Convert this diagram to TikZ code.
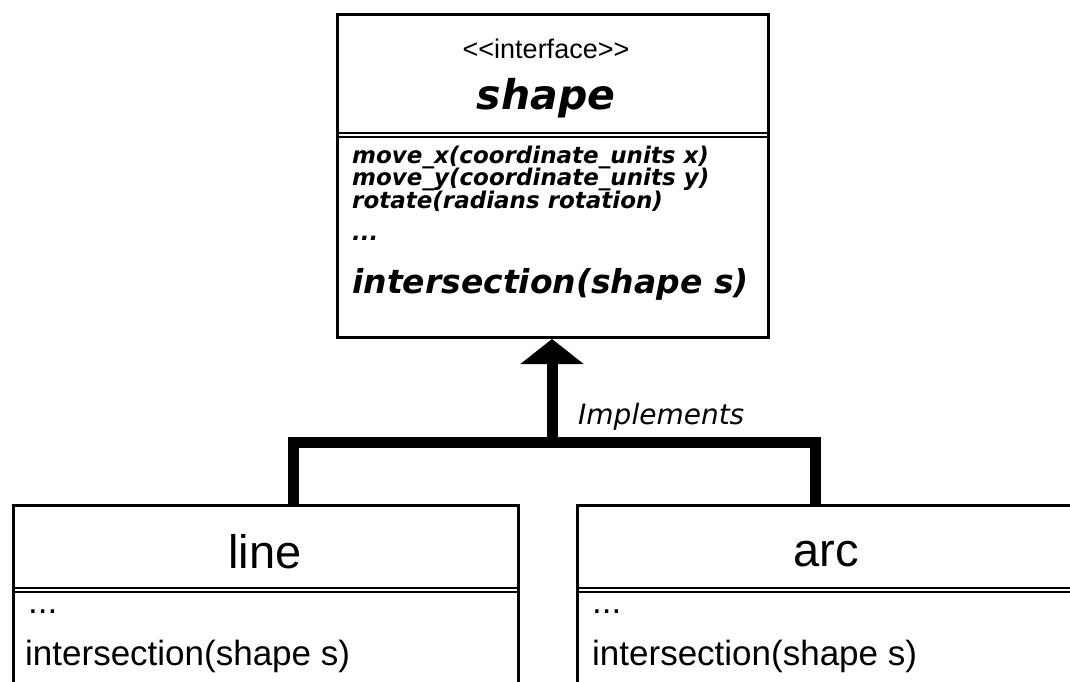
\documentclass[tikz,border=0pt]{standalone}
\usepackage{fontspec}
\setmainfont{Liberation Sans}
\newfontfamily\djv{DejaVu Sans}
\usetikzlibrary{arrows.meta}
\tikzset{
  classbox/.style={draw=black, line width=3pt, fill=white},
  sepline/.style={draw=black, line width=1.4pt},
  opitalic/.style={anchor=base west, inner sep=0pt, font=\djv\bfseries\itshape\fontsize{23}{23}\selectfont},
  plain/.style={inner sep=0pt, font=\fontsize{35}{35}\selectfont},
  classname/.style={anchor=base, inner sep=0pt, font=\fontsize{47}{47}\selectfont},
  realize/.style={draw=black, line width=11pt, line join=miter},
}
\begin{document}
\begin{tikzpicture}[x=1pt, y=-1pt]
  \useasboundingbox (0,0) rectangle (1070,681);
  \fill[white] (0,0) rectangle (1070,681);

  % interface box
  \node[classbox, minimum width=431pt, minimum height=323pt, anchor=north west, inner sep=0pt] (shapebox) at (336,13) {};
  \draw[sepline] (shapebox.west |- 0,133) -- (shapebox.east |- 0,133);
  \draw[sepline] (shapebox.west |- 0,137) -- (shapebox.east |- 0,137);
  \node[anchor=base, inner sep=0pt, font=\fontsize{27}{27}\selectfont] (stereo) at (546,58) {<\kern0pt<interface>\kern0pt>};
  \node[anchor=base, inner sep=0pt, font=\djv\bfseries\itshape\fontsize{41}{41}\selectfont] (iname) at (546,109) {shape};
  \node[opitalic] (op1) at (352,163) {move\_x(coordinate\_units x)};
  \node[opitalic] (op2) at (352,185) {move\_y(coordinate\_units y)};
  \node[opitalic] (op3) at (352,208) {rotate(radians rotation)};
  \node[opitalic] (op4) at (352,240) {...};
  \node[anchor=base west, inner sep=0pt, font=\djv\bfseries\itshape\fontsize{33}{33}\selectfont] (op5) at (352,293) {intersection(shape s)};

  % implementing classes (cut off at the page edges)
  \node[classbox, minimum width=505pt, minimum height=200pt, anchor=north west, inner sep=0pt] (linebox) at (12,504) {};
  \node[classbox, minimum width=520pt, minimum height=200pt, anchor=north west, inner sep=0pt] (arcbox) at (576,504) {};
  \draw[sepline] (linebox.west |- 0,588) -- (linebox.east |- 0,588);
  \draw[sepline] (linebox.west |- 0,592) -- (linebox.east |- 0,592);
  \draw[sepline] (arcbox.west |- 0,588) -- (arcbox.east |- 0,588);
  \draw[sepline] (arcbox.west |- 0,592) -- (arcbox.east |- 0,592);

  \node[classname] (lname) at (265,568) {line};
  \node[classname] (aname) at (826,566) {arc};
  \node[plain, anchor=base west] (ldots) at (28,613) {...};
  \node[plain, anchor=base west] (adots) at (592,613) {...};
  \node[plain, anchor=base west] (lop) at (25,665) {intersection(shape s)};
  \node[plain, anchor=base west] (aop) at (592,665) {intersection(shape s)};

  % realization connector
  \coordinate (join) at (552,442);
  \coordinate (ltop) at (293,504);
  \coordinate (atop) at (815,504);
  \draw[realize] (ltop) |- (join) -| (atop);
  \draw[line width=11pt, -{Triangle[width=62pt, length=25pt]}] (join) -- (join |- shapebox.south);
  \node[anchor=base west, inner sep=0pt, font=\djv\itshape\fontsize{28}{28}\selectfont] (impl) at (578,424) {Implements};
\end{tikzpicture}
\end{document}
